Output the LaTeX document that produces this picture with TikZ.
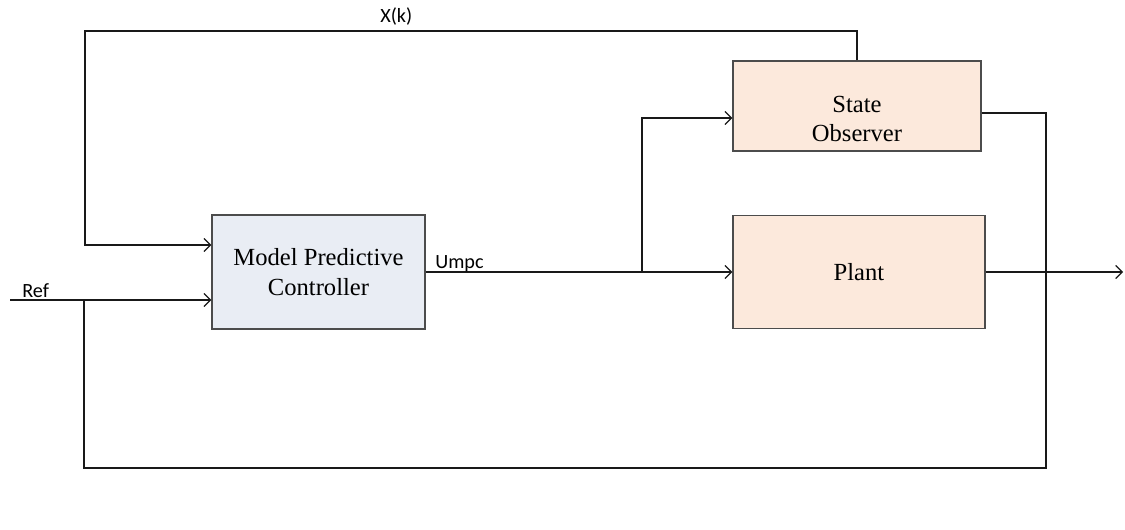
\documentclass[tikz,border=0pt]{standalone}
\usepackage{fontspec}
\setmainfont{Liberation Serif}
\newfontfamily\labelfont{Carlito}
\usetikzlibrary{arrows.meta,calc,positioning}
\definecolor{mpcblue}{RGB}{233,237,244}
\definecolor{plantpeach}{RGB}{252,233,220}
\colorlet{boxline}{black!70}
\tikzset{>={Straight Barb[length=1.3mm,width=2.6mm]}}
\tikzstyle{block}=[draw=boxline,line width=0.8pt,align=center,font=\fontsize{14}{17}\selectfont]
\tikzstyle{blocktext}=[align=center,font=\fontsize{14}{17}\selectfont]
\tikzstyle{signal}=[black!90,line width=0.7pt]
\tikzstyle{siglabel}=[font=\labelfont\fontsize{11.5}{13}\selectfont,inner sep=0pt]

\begin{document}
\begin{tikzpicture}[x=0.02cm, y=-0.02cm]

    \useasboundingbox (0,0) rectangle (1125,529);

    % blocks
    \node[block, fill=mpcblue, minimum width=4.26cm, minimum height=2.28cm] (mpc) at (318.5,272) {Model Predictive\\Controller};
    \node[block, fill=plantpeach, minimum width=4.96cm, minimum height=1.8cm] (obs) at (857,106) {};
    \node[blocktext] (obslbl) at (857,119) {State\\Observer};
    \node[block, fill=plantpeach, minimum width=5.04cm, minimum height=2.26cm] (plant) at (859,272) {Plant};

    % helper points
    \coordinate (ref) at (10,300);
    \coordinate (j) at (642,272);
    \coordinate (out) at (1123,272);
    \coordinate (sum) at (84,300);

    % reference input
    \draw[signal,->] (ref) -- (ref -| mpc.west);
    \node[siglabel, anchor=base west] (reflbl) at (22,297) {Ref};

    % control signal
    \draw[signal,->] (mpc.east) -- (plant.west);
    \node[siglabel, anchor=base west] (ulbl) at (435,268) {Umpc};
    \draw[signal,->] (j) -- (j |- 0,118) -- (obs.west |- 0,118);

    % state feedback
    \draw[signal,->] (obs.north) -- (obs.north |- 0,31) -- (85,31) -- (85,245) -- (mpc.west |- 0,245);
    \node[siglabel, anchor=base west] (xlbl) at (380,22) {X(k)};

    % observer output back to reference
    \draw[signal] (obs.east |- 0,113) -- (1046,113) -- (1046,468) -- (84,468) -- (sum);

    % plant output
    \draw[signal,->] (plant.east) -- (out);

\end{tikzpicture}
\end{document}
